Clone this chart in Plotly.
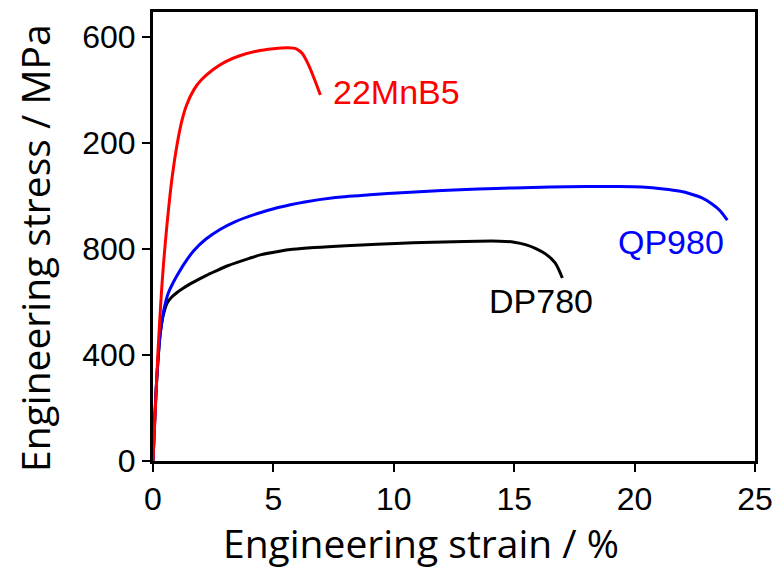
import plotly.graph_objects as go

# Engineering stress-strain curves (strain in %, stress in MPa)
mnb5_strain = [0, 0.2, 0.4, 0.6, 0.8, 1.0, 1.2, 1.4, 1.7, 2.0, 2.5, 3.0, 3.6, 4.3,
               5.0, 5.6, 5.95, 6.2, 6.45, 6.7, 6.95]
mnb5_stress = [0, 400, 700, 910, 1075, 1195, 1285, 1345, 1402, 1438, 1478, 1507, 1530,
               1547, 1556, 1560, 1556, 1538, 1497, 1442, 1382]

qp980_strain = [0, 0.15, 0.3, 0.4, 0.5, 0.6, 0.7, 0.83, 1.0, 1.3, 1.7, 2.2, 2.8, 3.4,
                4.2, 5.2, 6.3, 7.5, 9.0, 10.5, 12.0, 13.5, 15.0, 16.5, 18.0, 19.3,
                20.3, 21.2, 21.9, 22.3, 22.8, 23.2, 23.55, 23.85]
qp980_stress = [0, 300, 480, 545, 590, 625, 648, 672, 700, 745, 795, 838, 875, 903,
                930, 957, 978, 994, 1005, 1014, 1021, 1027, 1031, 1034, 1036, 1036,
                1034, 1027, 1018, 1009, 993, 971, 945, 909]

dp780_strain = [0, 0.15, 0.3, 0.4, 0.5, 0.6, 0.77, 1.0, 1.25, 1.7, 2.2, 2.6, 3.1, 4.0,
                4.5, 5.2, 5.8, 6.7, 8.0, 9.3, 10.8, 12.5, 13.5, 14.4, 15.0, 15.5,
                15.9, 16.3, 16.7, 17.0]
dp780_stress = [0, 300, 480, 540, 575, 598, 618, 636, 652, 676, 700, 717, 737, 765,
                779, 791, 799, 806, 813, 818, 824, 828, 830, 830, 826, 816, 802, 782,
                748, 691]

x_ticks = [0, 5, 10, 15, 20, 25]
y_ticks = [0, 400, 800, 1200, 1600]
y_tick_text = ["0", "400", "800", "200", "600"]

# Curve labels: (text, strain, stress, colour)
labels = [
    ("22MnB5", 10.12, 1393, "#ff0000"),
    ("QP980", 21.5, 825, "#0000ff"),
    ("DP780", 16.1, 604, "#000000"),
]

fig = go.Figure()
curve_line = dict(width=3, shape="spline", smoothing=0.8)
fig.add_trace(go.Scatter(x=dp780_strain, y=dp780_stress, mode="lines",
                         line=dict(color="#000000", **curve_line)))
fig.add_trace(go.Scatter(x=qp980_strain, y=qp980_stress, mode="lines",
                         line=dict(color="#0000ff", **curve_line)))
fig.add_trace(go.Scatter(x=mnb5_strain, y=mnb5_stress, mode="lines",
                         line=dict(color="#ff0000", **curve_line)))

for text, x, y, color in labels:
    fig.add_annotation(x=x, y=y, text=text, showarrow=False,
                       xanchor="center", yanchor="middle",
                       font=dict(family="Liberation Sans, Arial", size=34, color=color))

tick_font = dict(family="Liberation Sans, Arial", size=32, color="#000000")
title_font = dict(family="Open Sans, Segoe UI", size=39, color="#000000")

# Axis titles
fig.add_annotation(xref="paper", yref="paper", x=0.446, y=-0.182,
                   text="Engineering strain / %", showarrow=False,
                   xanchor="center", yanchor="middle", font=title_font)
fig.add_annotation(xref="paper", yref="paper", x=-0.198, y=0.474,
                   text="Engineering stress / MPa", showarrow=False, textangle=-90,
                   xanchor="center", yanchor="middle", font=title_font)

fig.update_layout(
    width=782, height=571,
    margin=dict(l=153, r=19, t=9, b=110),
    paper_bgcolor="white", plot_bgcolor="white",
    showlegend=False,
    xaxis=dict(
        range=[0, 25], tickvals=x_ticks, ticktext=[str(v) for v in x_ticks],
        ticks="outside", ticklen=8, tickwidth=2, tickcolor="#000000",
        showline=True, linewidth=3, linecolor="#000000", mirror=True,
        showgrid=False, zeroline=False, tickfont=tick_font,
    ),
    yaxis=dict(
        range=[0, 1695], tickvals=y_ticks, ticktext=y_tick_text,
        ticks="outside", ticklen=8, tickwidth=2, tickcolor="#000000",
        showline=True, linewidth=3, linecolor="#000000", mirror=True,
        showgrid=False, zeroline=False, tickfont=tick_font,
    ),
)

fig.write_html("out.html")
